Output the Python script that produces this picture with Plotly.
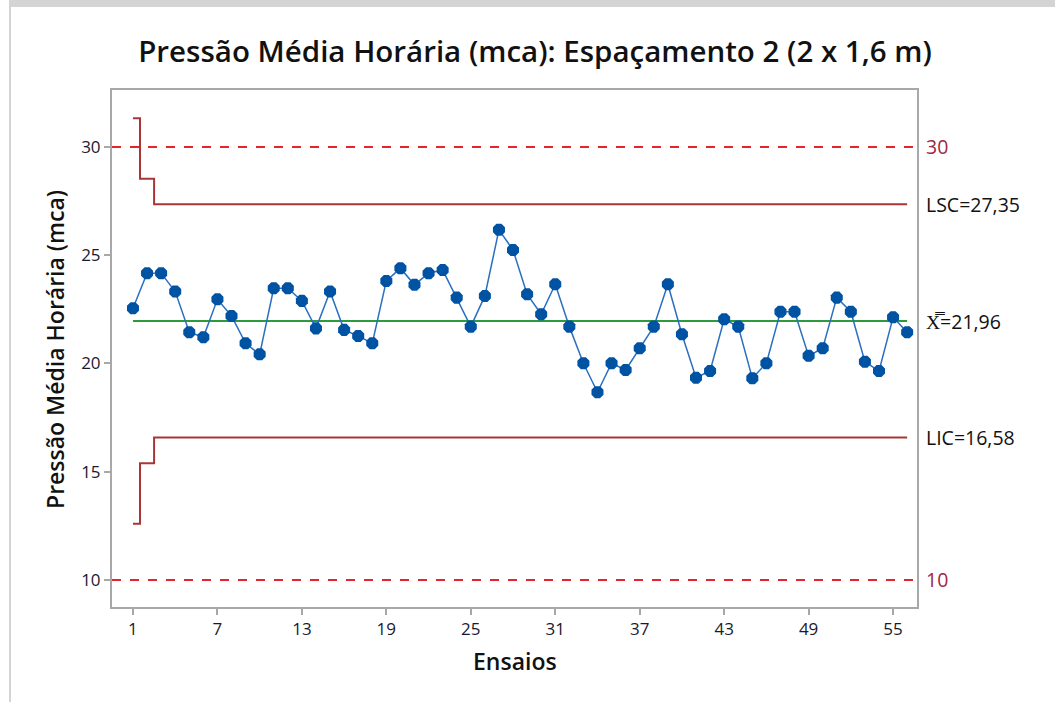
import plotly.graph_objects as go

ensaios = list(range(1, 57))
pressao = [22.55, 24.17, 24.17, 23.32, 21.44, 21.21, 22.96, 22.19, 20.93, 20.42,
           23.47, 23.47, 22.89, 21.62, 23.32, 21.55, 21.27, 20.93, 23.81, 24.40,
           23.63, 24.17, 24.32, 23.04, 21.70, 23.12, 26.17, 25.24, 23.20, 22.27,
           23.66, 21.70, 20.01, 18.67, 20.01, 19.70, 20.70, 21.70, 23.66, 21.35,
           19.34, 19.65, 22.04, 21.70, 19.32, 20.01, 22.39, 22.39, 20.35, 20.70,
           23.04, 22.39, 20.08, 19.65, 22.13, 21.44]

media = 21.96
lsc_x = [1, 1.5, 2.5, 56]
lsc_y = [31.33, 28.53, 27.35, 27.35]
lic_x = [1, 1.5, 2.5, 56]
lic_y = [12.59, 15.39, 16.58, 16.58]
lse = 30
lie = 10

x_ticks = [1, 7, 13, 19, 25, 31, 37, 43, 49, 55]
y_ticks = [10, 15, 20, 25, 30]

FONT = "Open Sans"
BLUE = "#0052A3"
DARKRED = "#A83636"
RED = "#E3262B"
GREEN = "#2E9A3E"
GRAY = "#A8A8A8"
TXT = "#111111"

fig = go.Figure()

fig.add_trace(go.Scatter(x=lsc_x, y=lsc_y, mode="lines", line=dict(color=DARKRED, width=2, shape="hv"),
                         hoverinfo="skip", showlegend=False))
fig.add_trace(go.Scatter(x=lic_x, y=lic_y, mode="lines", line=dict(color=DARKRED, width=2, shape="hv"),
                         hoverinfo="skip", showlegend=False))
fig.add_trace(go.Scatter(x=[ensaios[0], ensaios[-1]], y=[media, media], mode="lines",
                         line=dict(color=GREEN, width=2), hoverinfo="skip", showlegend=False))
fig.add_trace(go.Scatter(x=ensaios, y=pressao, mode="lines+markers",
                         line=dict(color="#2A6FC0", width=1.5),
                         marker=dict(symbol="octagon", size=13, color=BLUE, line=dict(width=0)),
                         showlegend=False))

for v in (lse, lie):
    fig.add_shape(type="line", xref="paper", yref="y", x0=0, x1=1, y0=v, y1=v,
                  line=dict(color=RED, width=2, dash="dash"), layer="below")

# right-side labels
right_labels = [
    (lse, str(lse), "#A02845"),
    (lsc_y[-1], "LSC=" + f"{lsc_y[-1]:.2f}".replace(".", ","), TXT),
    (media, "X\u033F=" + f"{media:.2f}".replace(".", ","), TXT),
    (lic_y[-1], "LIC=" + f"{lic_y[-1]:.2f}".replace(".", ","), TXT),
    (lie, str(lie), "#A02845"),
]
for yv, txt, col in right_labels:
    fig.add_annotation(x=1, xref="paper", y=yv, yref="y", text=txt, showarrow=False,
                       xanchor="left", yanchor="middle", xshift=7,
                       font=dict(family=FONT, size=19.5, color=col))

# axis titles
fig.add_annotation(x=(515 - 112) / 805, xref="paper", y=(607 - 661) / 517, yref="paper",
                   text="Ensaios", showarrow=False, xanchor="center", yanchor="middle",
                   font=dict(family=FONT, size=23, color=TXT, weight=600))
fig.add_annotation(x=(55 - 112) / 805, xref="paper", y=(607 - 350) / 517, yref="paper",
                   text="Pressão Média Horária (mca)", showarrow=False, textangle=-90,
                   xanchor="center", yanchor="middle",
                   font=dict(family=FONT, size=23, color=TXT, weight=600))

# screenshot frame
fig.add_shape(type="rect", xref="paper", yref="paper",
              x0=(9 - 112) / 805, x1=(1055 - 112) / 805, y0=(607 - 0) / 517, y1=(607 - 7) / 517,
              fillcolor="#D4D4D4", line=dict(width=0), layer="below")
fig.add_shape(type="line", xref="paper", yref="paper",
              x0=(10 - 112) / 805, x1=(10 - 112) / 805, y0=(607 - 0) / 517, y1=(607 - 702) / 517,
              line=dict(color="#D4D4D4", width=2), layer="below")

fig.update_layout(
    width=1055, height=702,
    margin=dict(l=112, r=138, t=90, b=95),
    paper_bgcolor="white", plot_bgcolor="white",
    title=dict(text="Pressão Média Horária (mca): Espaçamento 2 (2 x 1,6 m)",
               x=(535 - 112) / 805, xref="paper", xanchor="center",
               y=1 - 52 / 702, yref="container", yanchor="middle",
               font=dict(family=FONT, size=29.5, color=TXT, weight=600)),
    xaxis=dict(range=[-0.49, 56.7], tickvals=x_ticks, ticks="outside", ticklen=6, tickwidth=1.5,
               tickcolor=GRAY, showline=True, linecolor=GRAY, linewidth=2, mirror=True,
               showgrid=False, zeroline=False,
               tickfont=dict(family=FONT, size=17, color="#1A1A2E")),
    yaxis=dict(range=[8.75, 32.63], tickvals=y_ticks, ticks="outside", ticklen=6, tickwidth=1.5,
               tickcolor=GRAY, showline=True, linecolor=GRAY, linewidth=2, mirror=True,
               showgrid=False, zeroline=False,
               tickfont=dict(family=FONT, size=17, color="#1A1A2E")),
)

fig.write_html("out.html", config={"displayModeBar": False},
               post_script="document.body.style.margin='0';")
